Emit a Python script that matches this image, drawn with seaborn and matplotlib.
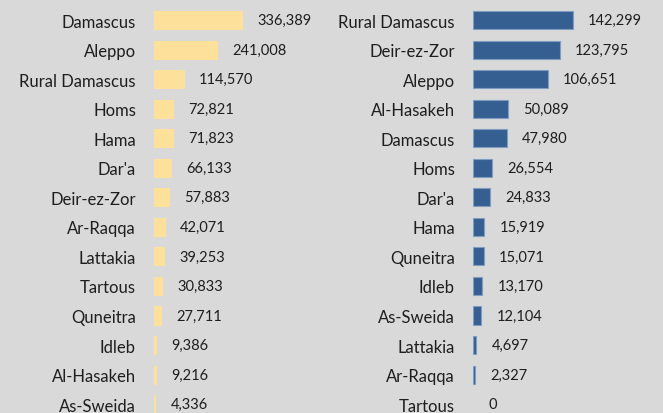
import matplotlib
matplotlib.use("Agg")
import matplotlib.pyplot as plt
import seaborn as sns
import pandas as pd

# left panel
left_names = ["Damascus", "Aleppo", "Rural Damascus", "Homs", "Hama", "Dar'a",
              "Deir-ez-Zor", "Ar-Raqqa", "Lattakia", "Tartous", "Quneitra",
              "Idleb", "Al-Hasakeh", "As-Sweida"]
left_vals = [336389, 241008, 114570, 72821, 71823, 66133, 57883, 42071,
             39253, 30833, 27711, 9386, 9216, 4336]

# right panel
right_names = ["Rural Damascus", "Deir-ez-Zor", "Aleppo", "Al-Hasakeh", "Damascus",
               "Homs", "Dar'a", "Hama", "Quneitra", "Idleb", "As-Sweida",
               "Lattakia", "Ar-Raqqa", "Tartous"]
right_vals = [142299, 123795, 106651, 50089, 47980, 26554, 24833, 15919,
              15071, 13170, 12104, 4697, 2327, 0]

sns.set_theme(style="white")
plt.rcParams['font.family'] = ['Lato', 'DejaVu Sans']
bg = '#d9d9d9'
txt = '#1e1e1e'

W, H = 663, 414
fig = plt.figure(figsize=(W / 100, H / 100), dpi=100)
fig.patch.set_facecolor(bg)

row = 29.55
top = 21 - row / 2
hgt = 14 * row


def panel(names, vals, x0, x1, px_ref, color, edge):
    ax = fig.add_axes([x0 / W, (H - top - hgt) / H, (x1 - x0) / W, hgt / H])
    ax.set_facecolor(bg)
    df = pd.DataFrame({'name': names, 'val': vals})
    sns.barplot(data=df, x='val', y='name', orient='h', color=color,
                width=0.61, edgecolor=edge, linewidth=0.8, saturation=1, ax=ax)
    for p in ax.patches:
        if p.get_width() == 0:
            p.set_linewidth(0)
    ax.set_xlim(0, (x1 - x0) * max(vals) / px_ref)
    ax.set_ylim(13.5, -0.5)
    for i, v in enumerate(vals):
        ax.annotate('{:,}'.format(v), xy=(v, i), xytext=(11, 0),
                    textcoords='offset points', va='center', ha='left',
                    fontsize=10.5, color=txt)
    sns.despine(ax=ax, left=True, bottom=True)
    ax.set_xticks([])
    ax.set_xlabel('')
    ax.set_ylabel('')
    ax.tick_params(axis='y', length=0, pad=13, labelsize=12, labelcolor=txt)
    return ax


panel(left_names, left_vals, 154, 322, 88, '#fde09a', '#fde09a')
panel(right_names, right_vals, 473, 660, 99.7, '#355e91', '#7f9dc0')

plt.savefig('out.png', dpi=100, facecolor=bg)
